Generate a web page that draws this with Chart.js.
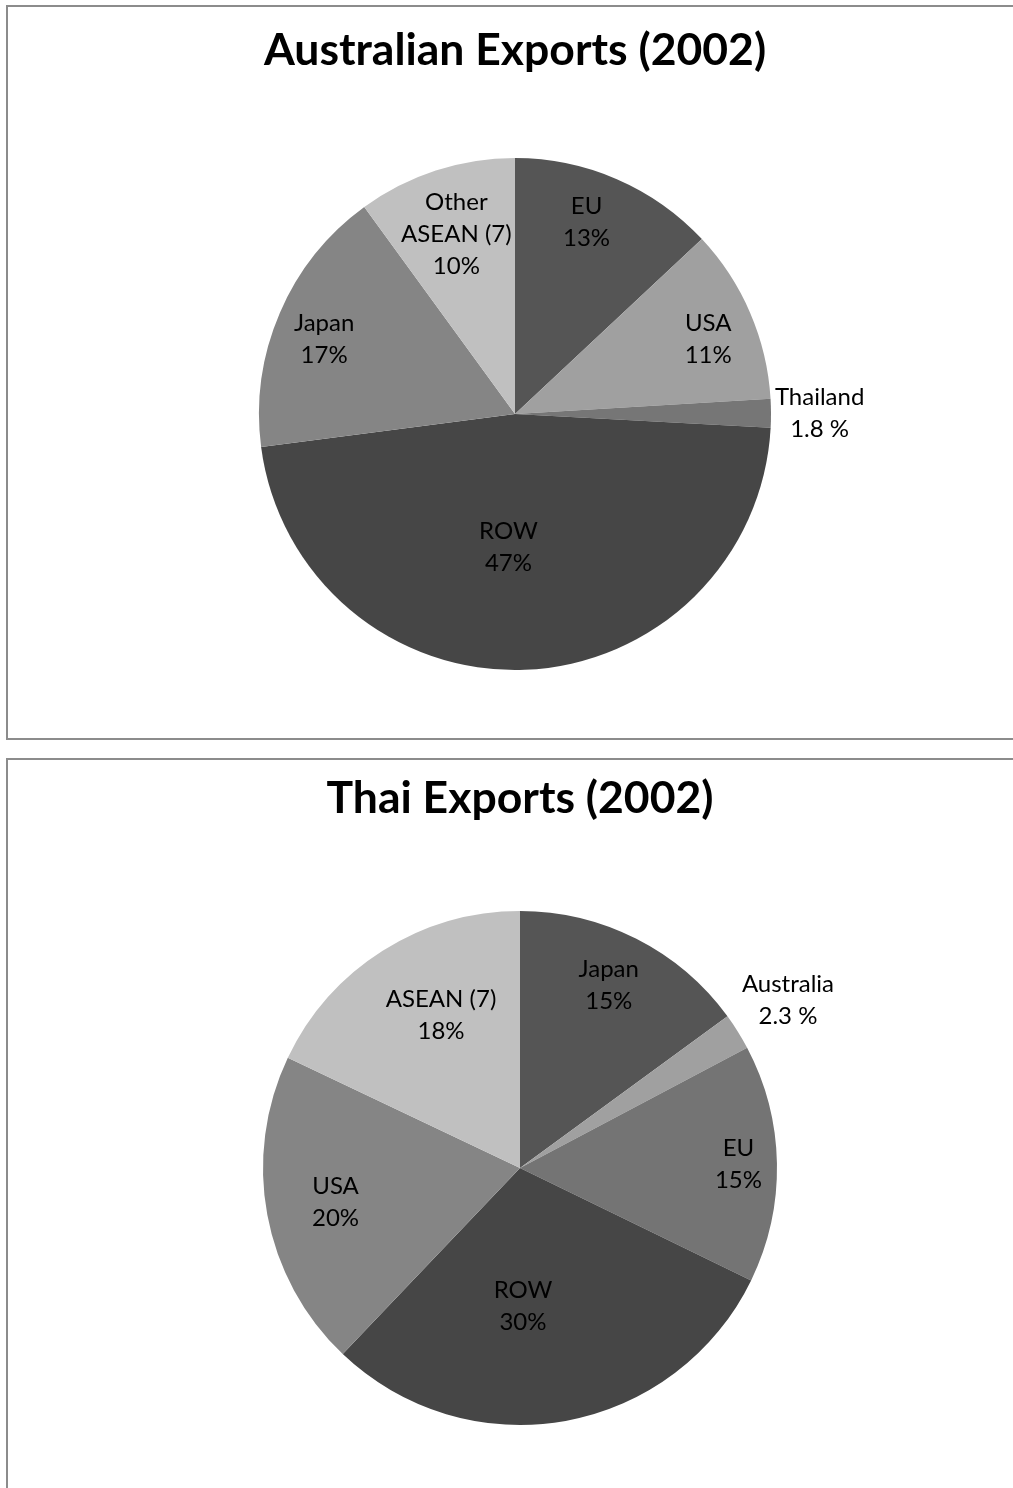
<!DOCTYPE html>
<html>
<head>
<meta charset="utf-8">
<script src="https://cdn.jsdelivr.net/npm/chart.js@4.4.1/dist/chart.umd.min.js"></script>
<style>
  body { margin: 0; background: #fff; overflow: hidden; }
  .box { position: absolute; left: 6px; border: 2px solid #8c8c8c; background: #fff; }
  #box1 { top: 5px; width: 1010px; height: 731px; }
  #box2 { top: 758px; width: 1010px; height: 740px; }
  canvas { display: block; }
</style>
</head>
<body>
<div class="box" id="box1"><canvas id="ausChart" width="1010" height="731"></canvas></div>
<div class="box" id="box2"><canvas id="thaiChart" width="1010" height="740"></canvas></div>
<script>
// Australian exports 2002 (share %), clockwise from 12 o'clock
const ausLabels = [['EU'], ['USA'], ['Thailand'], ['ROW'], ['Japan'], ['Other', 'ASEAN (7)']];
const ausValues = [13, 11, 1.8, 47, 17, 10];
const ausColors = ['#555555', '#a0a0a0', '#767676', '#464646', '#858585', '#c0c0c0'];
const ausLabelRadius = [0.80, 0.81, 1.19, 0.52, 0.80, 0.74];
const ausLabelTurn = [-3, 2, 0, 5, -2, 0];

// Thai exports 2002 (share %)
const thaiLabels = [['Japan'], ['Australia'], ['EU'], ['ROW'], ['USA'], ['ASEAN (7)']];
const thaiValues = [15, 2.3, 15, 30, 20, 18];
const thaiColors = ['#555555', '#a0a0a0', '#747474', '#464646', '#858585', '#c0c0c0'];
const thaiLabelRadius = [0.79, 1.23, 0.85, 0.54, 0.73, 0.67];
const thaiLabelTurn = [-1, 0, 0, 9, 0, 5];

const FONT = 'Lato, "Open Sans", sans-serif';

function pctText(v) {
  return v < 5 ? v.toFixed(1) + ' %' : Math.round(v) + '%';
}

// draws Excel-style data labels (name + percent) from the arc geometry
const sliceLabels = {
  id: 'sliceLabels',
  afterDatasetsDraw(chart, args, opts) {
    const ctx = chart.ctx;
    const meta = chart.getDatasetMeta(0);
    const values = chart.data.datasets[0].data;
    ctx.save();
    ctx.font = '24px ' + FONT;
    ctx.fillStyle = '#000';
    ctx.textAlign = 'center';
    ctx.textBaseline = 'middle';
    meta.data.forEach((arc, i) => {
      const mid = (arc.startAngle + arc.endAngle) / 2 + opts.turn[i] * Math.PI / 180;
      const r = arc.outerRadius * opts.radius[i];
      const x = arc.x + Math.cos(mid) * r;
      const y = arc.y + Math.sin(mid) * r;
      const lines = opts.names[i].concat([pctText(values[i])]);
      const lh = 32;
      const y0 = y - (lines.length - 1) * lh / 2;
      lines.forEach((t, k) => ctx.fillText(t, x, y0 + k * lh));
    });
    ctx.restore();
  }
};

function makePie(id, title, names, values, colors, radius, turn, pad, titleTop) {
  return new Chart(document.getElementById(id), {
    type: 'pie',
    data: {
      labels: names.map(n => n.join(' ')),
      datasets: [{
        data: values,
        backgroundColor: colors,
        borderWidth: 0
      }]
    },
    options: {
      responsive: false,
      animation: false,
      layout: { padding: pad },
      plugins: {
        legend: { display: false },
        tooltip: { enabled: false },
        title: {
          display: true,
          text: title,
          color: '#000',
          font: { family: FONT, size: 44.5, weight: 'bold', lineHeight: 1.2 },
          padding: { top: titleTop, bottom: 151 - titleTop - 53.4 }
        },
        sliceLabels: { names: names, radius: radius, turn: turn }
      }
    },
    plugins: [sliceLabels]
  });
}

makePie('ausChart', 'Australian Exports (2002)', ausLabels, ausValues, ausColors,
  ausLabelRadius, ausLabelTurn,
  { left: 251, right: 1010 - 763, top: 0, bottom: 731 - 663 }, 17);
makePie('thaiChart', 'Thai Exports (2002)', thaiLabels, thaiValues, thaiColors,
  thaiLabelRadius, thaiLabelTurn,
  { left: 255, right: 1010 - 769, top: 0, bottom: 740 - 665 }, 12);
</script>
</body>
</html>
